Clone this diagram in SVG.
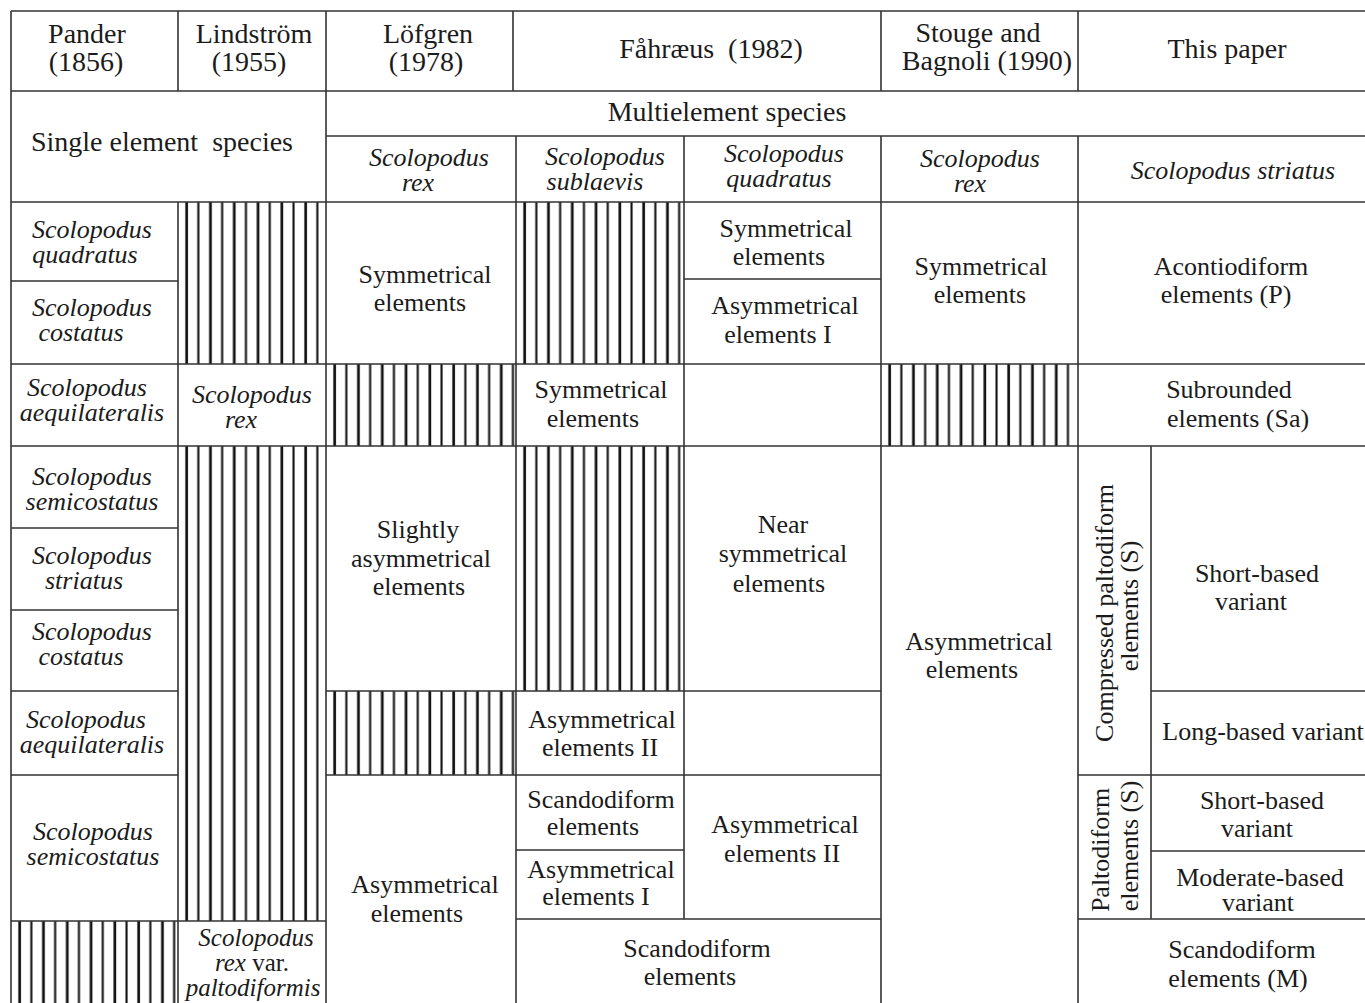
<svg xmlns="http://www.w3.org/2000/svg" width="1365" height="1003" viewBox="0 0 1365 1003">
<style>
text{fill:#1b1b1b;text-anchor:middle;font-family:"Liberation Serif","Times New Roman",serif}
.h{font-size:28px}
.b{font-size:26px}
.i{font-size:26px;font-style:italic}
.s{font-size:25px}
.grid path{stroke:#333;stroke-width:1.6;fill:none}
.hatch{fill:url(#hatch)}
</style>
<defs>
<pattern id="hatch" patternUnits="userSpaceOnUse" width="23.8" height="20">
<rect width="23.8" height="20" fill="#fff"/>
<rect x="7.3" y="0" width="2.7" height="20" fill="#111"/>
<rect x="19.3" y="0" width="2.1" height="20" fill="#111"/>
</pattern>
</defs>
<rect width="1365" height="1003" fill="#fff"/>

<g id="hatches">
<g transform="translate(178,202)"><rect class="hatch" width="148" height="162"/></g>
<g transform="translate(178,446)"><rect class="hatch" width="148" height="475"/></g>
<g transform="translate(326,364)"><rect class="hatch" width="190" height="82"/></g>
<g transform="translate(326,691)"><rect class="hatch" width="190" height="84"/></g>
<g transform="translate(516,202)"><rect class="hatch" width="168" height="162"/></g>
<g transform="translate(516,446)"><rect class="hatch" width="168" height="245"/></g>
<g transform="translate(881,364)"><rect class="hatch" width="197" height="82"/></g>
<g transform="translate(11,921)"><rect class="hatch" width="167" height="82"/></g>
</g>

<g id="connectors" class="grid">
<path d="M11 11H1365M11 91H1365M326 136H1365M11 202H1365M11 281H178M684 279H881M11 364H1365M11 446H1365M11 528H178M11 610H178M11 691H178M326 691H881M1151 691H1365M11 775H178M326 775H881M1078 775H1365M516 850H684M1151 851H1365M11 921H326M516 919H881M1078 919H1365"/>
<path d="M11 11V1003M178 11V91M178 202V1003M326 11V1003M513 11V91M516 136V1003M684 136V919M881 11V91M881 136V1003M1078 11V91M1078 136V1003M1151 446V919"/>
</g>

<g id="h-pander"><text class="h"><tspan x="87" y="43">Pander</tspan><tspan x="86" y="71">(1856)</tspan></text></g>
<g id="h-lindstrom"><text class="h"><tspan x="254" y="43">Lindström</tspan><tspan x="249" y="71">(1955)</tspan></text></g>
<g id="h-lofgren"><text class="h"><tspan x="428" y="43">Löfgren</tspan><tspan x="426" y="71">(1978)</tspan></text></g>
<g id="h-fahraeus"><text class="h" x="711" y="58">Fåhræus&#160; (1982)</text></g>
<g id="h-stouge"><text class="h"><tspan x="978" y="42">Stouge and</tspan><tspan x="987" y="70">Bagnoli (1990)</tspan></text></g>
<g id="h-thispaper"><text class="h" x="1227" y="58">This paper</text></g>

<g id="single"><text class="h" x="162" y="151">Single element&#160; species</text></g>
<g id="multi"><text class="h" x="727" y="121">Multielement species</text></g>

<g id="sp-lofgren"><text class="i"><tspan x="429" y="166">Scolopodus</tspan><tspan x="418" y="191">rex</tspan></text></g>
<g id="sp-sublaevis"><text class="i"><tspan x="605" y="165">Scolopodus</tspan><tspan x="595" y="190">sublaevis</tspan></text></g>
<g id="sp-quadratus"><text class="i"><tspan x="784" y="162">Scolopodus</tspan><tspan x="779" y="187">quadratus</tspan></text></g>
<g id="sp-stouge"><text class="i"><tspan x="980" y="167">Scolopodus</tspan><tspan x="970" y="192">rex</tspan></text></g>
<g id="sp-striatus"><text class="i" x="1233" y="179">Scolopodus striatus</text></g>

<g id="p-quadratus"><text class="i"><tspan x="92" y="238">Scolopodus</tspan><tspan x="85" y="263">quadratus</tspan></text></g>
<g id="p-costatus1"><text class="i"><tspan x="92" y="316">Scolopodus</tspan><tspan x="81" y="341">costatus</tspan></text></g>
<g id="p-aequi1"><text class="i"><tspan x="87" y="396">Scolopodus</tspan><tspan x="92" y="421">aequilateralis</tspan></text></g>
<g id="p-semi1"><text class="i"><tspan x="92" y="485">Scolopodus</tspan><tspan x="92" y="510">semicostatus</tspan></text></g>
<g id="p-striatus"><text class="i"><tspan x="92" y="564">Scolopodus</tspan><tspan x="84" y="589">striatus</tspan></text></g>
<g id="p-costatus2"><text class="i"><tspan x="92" y="640">Scolopodus</tspan><tspan x="81" y="665">costatus</tspan></text></g>
<g id="p-aequi2"><text class="i"><tspan x="86" y="728">Scolopodus</tspan><tspan x="92" y="753">aequilateralis</tspan></text></g>
<g id="p-semi2"><text class="i"><tspan x="93" y="840">Scolopodus</tspan><tspan x="93" y="865">semicostatus</tspan></text></g>

<g id="l-rex"><text class="i"><tspan x="252" y="403">Scolopodus</tspan><tspan x="241" y="428">rex</tspan></text></g>
<g id="l-rexvar"><text class="s"><tspan x="256" y="946" font-style="italic">Scolopodus</tspan><tspan x="252" y="971"><tspan font-style="italic">rex</tspan> var.</tspan><tspan x="253" y="996" font-style="italic">paltodiformis</tspan></text></g>

<g id="lo-sym"><text class="b"><tspan x="425" y="283">Symmetrical</tspan><tspan x="420" y="311">elements</tspan></text></g>
<g id="lo-slight"><text class="b"><tspan x="418" y="538">Slightly</tspan><tspan x="421" y="567">asymmetrical</tspan><tspan x="419" y="595">elements</tspan></text></g>
<g id="lo-asym"><text class="b"><tspan x="425" y="893">Asymmetrical</tspan><tspan x="417" y="922">elements</tspan></text></g>

<g id="f1-sym"><text class="b"><tspan x="601" y="398">Symmetrical</tspan><tspan x="593" y="427">elements</tspan></text></g>
<g id="f1-asym2"><text class="b"><tspan x="602" y="728">Asymmetrical</tspan><tspan x="600" y="756">elements II</tspan></text></g>
<g id="f1-scand"><text class="b"><tspan x="601" y="808">Scandodiform</tspan><tspan x="593" y="835">elements</tspan></text></g>
<g id="f1-asym1"><text class="b"><tspan x="601" y="878">Asymmetrical</tspan><tspan x="596" y="905">elements I</tspan></text></g>
<g id="f-scand"><text class="b"><tspan x="697" y="957">Scandodiform</tspan><tspan x="690" y="985">elements</tspan></text></g>

<g id="f2-sym"><text class="b"><tspan x="786" y="237">Symmetrical</tspan><tspan x="779" y="265">elements</tspan></text></g>
<g id="f2-asym1"><text class="b"><tspan x="785" y="314">Asymmetrical</tspan><tspan x="778" y="343">elements I</tspan></text></g>
<g id="f2-near"><text class="b"><tspan x="783" y="533">Near</tspan><tspan x="783" y="562">symmetrical</tspan><tspan x="779" y="592">elements</tspan></text></g>
<g id="f2-asym2"><text class="b"><tspan x="785" y="833">Asymmetrical</tspan><tspan x="782" y="862">elements II</tspan></text></g>

<g id="s-sym"><text class="b"><tspan x="981" y="275">Symmetrical</tspan><tspan x="980" y="303">elements</tspan></text></g>
<g id="s-asym"><text class="b"><tspan x="979" y="650">Asymmetrical</tspan><tspan x="972" y="678">elements</tspan></text></g>

<g id="t-acont"><text class="b"><tspan x="1231" y="275">Acontiodiform</tspan><tspan x="1226" y="303">elements (P)</tspan></text></g>
<g id="t-subr"><text class="b"><tspan x="1229" y="398">Subrounded</tspan><tspan x="1238" y="427">elements (Sa)</tspan></text></g>
<g id="t-comp"><text class="b" transform="translate(1113,613) rotate(-90)">Compressed paltodiform</text><text class="b" transform="translate(1138,606) rotate(-90)">elements (S)</text></g>
<g id="t-short1"><text class="b"><tspan x="1257" y="582">Short-based</tspan><tspan x="1251" y="610">variant</tspan></text></g>
<g id="t-long"><text class="b" x="1263" y="740">Long-based variant</text></g>
<g id="t-palto"><text class="b" transform="translate(1109,850) rotate(-90)">Paltodiform</text><text class="b" transform="translate(1138,846) rotate(-90)">elements (S)</text></g>
<g id="t-short2"><text class="b"><tspan x="1262" y="809">Short-based</tspan><tspan x="1257" y="837">variant</tspan></text></g>
<g id="t-moder"><text class="b"><tspan x="1260" y="886">Moderate-based</tspan><tspan x="1258" y="911">variant</tspan></text></g>
<g id="t-scand"><text class="b"><tspan x="1242" y="958">Scandodiform</tspan><tspan x="1238" y="987">elements (M)</tspan></text></g>
</svg>
